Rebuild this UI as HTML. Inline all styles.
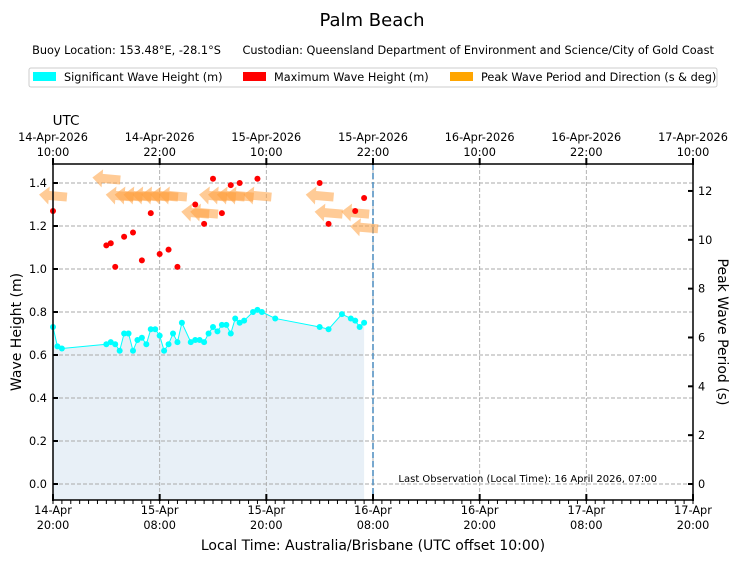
<!DOCTYPE html>
<html><head><meta charset="utf-8"><style>
body{margin:0;background:#fff;}
svg{font-family:"DejaVu Sans","Liberation Sans",sans-serif;}
</style></head><body>
<svg id="chart" width="739" height="562" viewBox="0 0 739 562" xmlns="http://www.w3.org/2000/svg">
<text x="372" y="26" font-size="18" text-anchor="middle">Palm Beach</text>
<text x="373" y="54" font-size="11.3" text-anchor="middle" xml:space="preserve">Buoy Location: 153.48°E, -28.1°S      Custodian: Queensland Department of Environment and Science/City of Gold Coast</text>
<g>
<rect x="29" y="68" width="688" height="19" fill="#fff" stroke="#ccc" rx="2"/>
<g><rect x="33" y="72" width="23" height="9" fill="#00ffff"/><text x="64" y="81" font-size="11.3">Significant Wave Height (m)</text></g>
<g><rect x="243" y="72" width="23" height="9" fill="#ff0000"/><text x="274" y="81" font-size="11.3">Maximum Wave Height (m)</text></g>
<g><rect x="450" y="72" width="23" height="9" fill="#ffa500"/><text x="481" y="81" font-size="11.3">Peak Wave Period and Direction (s &amp; deg)</text></g>
</g>
<g id="plot"></g>
</svg>
<script>
// hours since 14-Apr 20:00 local
const hsHours=[0,0.5,1,6,6.5,7,7.5,8,8.5,9,9.5,10,10.5,11,11.5,12,12.5,13,13.5,14,14.5,15.5,16,16.5,17,17.5,18,18.5,19,19.5,20,20.5,21,21.5,22.5,23,23.5,25,30,31,32.5,33.5,34,34.5,35];
const hsValues=[0.73,0.64,0.63,0.65,0.66,0.65,0.62,0.70,0.70,0.62,0.67,0.68,0.65,0.72,0.72,0.69,0.62,0.65,0.70,0.66,0.75,0.66,0.67,0.67,0.66,0.70,0.73,0.71,0.74,0.74,0.70,0.77,0.75,0.76,0.80,0.81,0.80,0.77,0.73,0.72,0.79,0.77,0.76,0.73,0.75];
const hmaxHours=[0,6,6.5,7,8,9,10,11,12,13,14,16,17,18,19,20,21,23,30,31,34,35];
const hmaxValues=[1.27,1.11,1.12,1.01,1.15,1.17,1.04,1.26,1.07,1.09,1.01,1.30,1.21,1.42,1.26,1.39,1.40,1.42,1.40,1.21,1.27,1.33];
const tpHours=[0,6,7.5,8.5,9.5,10.5,11.5,12.5,13.5,16,17,18,19,20,21,23,30,31,34,35];
const tpPeriods=[11.8,12.5,11.8,11.8,11.8,11.8,11.8,11.8,11.8,11.1,11.1,11.8,11.8,11.8,11.8,11.8,11.8,11.1,11.1,10.5];
const tpDirections=[95,95,95,95,95,95,95,95,95,95,95,95,95,95,95,95,95,95,95,95];
const leftTicks=[0,0.2,0.4,0.6,0.8,1.0,1.2,1.4];
const rightTicks=[0,2,4,6,8,10,12];
const localDates=["14-Apr","15-Apr","15-Apr","16-Apr","16-Apr","17-Apr","17-Apr"];
const localTimes=["20:00","08:00","20:00","08:00","20:00","08:00","20:00"];
const utcDates=["14-Apr-2026","14-Apr-2026","15-Apr-2026","15-Apr-2026","16-Apr-2026","16-Apr-2026","17-Apr-2026"];
const utcTimes=["10:00","22:00","10:00","22:00","10:00","22:00","10:00"];
const lastObsHour=36;

const L=53,R=693,T=164,B=500;
const x=h=>L+h*(R-L)/72;
const y=v=>484-v*215;
const yp=p=>484-p*24.42;
const NS="http://www.w3.org/2000/svg";
const plot=document.getElementById('plot');
function mk(tag,at,parent){const e=document.createElementNS(NS,tag);for(const k in at)e.setAttribute(k,at[k]);(parent||plot).appendChild(e);return e;}

let d=`M${x(hsHours[0])},${y(-0.074)}`;
hsHours.forEach((h,i)=>d+=`L${x(h)},${y(hsValues[i])}`);
d+=`L${x(hsHours[hsHours.length-1])},${y(-0.074)}Z`;
let a=mk('path',{d:d,fill:'#e8f0f7'});


leftTicks.forEach(v=>{let g=mk('line',{x1:L,x2:R,y1:y(v),y2:y(v),stroke:'#aaa','stroke-dasharray':'4,2','stroke-width':0.9});

});
for(let i=1;i<6;i++){let g=mk('line',{x1:x(i*12),x2:x(i*12),y1:T,y2:B,stroke:'#aaa','stroke-dasharray':'4,2','stroke-width':0.9});

}
let lo=mk('line',{x1:x(lastObsHour),x2:x(lastObsHour),y1:T,y2:B,stroke:'#4a8bbf','stroke-dasharray':'6,3','stroke-width':1.5});


let pts=hsHours.map((h,i)=>`${x(h)},${y(hsValues[i])}`).join(' ');
let hl=mk('polyline',{points:pts,fill:'none',stroke:'#00ffff','stroke-width':1});


hsHours.forEach((h,i)=>{let c=mk('circle',{cx:x(h),cy:y(hsValues[i]),r:3,fill:'#00ffff'});

});
tpHours.forEach((h,i)=>{
 const cx=x(h),cy=yp(tpPeriods[i]);
 const ang=tpDirections[i]+90;
 const g=mk('g',{transform:`translate(${cx},${cy}) rotate(${ang-180})`,opacity:0.55});
 
 
 mk('polygon',{points:'-14,0 -4,-9 -4,-4.5 14,-4.5 14,4.5 -4,4.5 -4,9',fill:'#ffa040'},g);
});
hmaxHours.forEach((h,i)=>{let c=mk('circle',{cx:x(h),cy:y(hmaxValues[i]),r:3,fill:'#ff0000'});

});
let fr=mk('rect',{x:L,y:T,width:R-L,height:B-T,fill:'none',stroke:'#000','stroke-width':1.5});


leftTicks.forEach(v=>{mk('line',{x1:L,x2:L+5,y1:y(v),y2:y(v),stroke:'#000','stroke-width':2});
let t=mk('text',{x:47,y:y(v)+4,'font-size':11.3,'text-anchor':'end'});t.textContent=v.toFixed(1);

});
rightTicks.forEach(v=>{mk('line',{x1:R-5,x2:R,y1:yp(v),y2:yp(v),stroke:'#000','stroke-width':2});
let t=mk('text',{x:698,y:yp(v)+4,'font-size':11.3});t.textContent=v;

});
for(let hh=0;hh<=72;hh++){mk('line',{x1:x(hh),x2:x(hh),y1:B,y2:B+4,stroke:'#000','stroke-width':1});}
for(let i=0;i<7;i++){const xx=x(i*12);
 mk('line',{x1:xx,x2:xx,y1:B-6,y2:B+1,stroke:'#000','stroke-width':2});
 mk('line',{x1:xx,x2:xx,y1:T-6,y2:T+1,stroke:'#000','stroke-width':2});
 let t1=mk('text',{x:xx,y:514,'font-size':11.3,'text-anchor':'middle'});t1.textContent=localDates[i];
 
 
 let t2=mk('text',{x:xx,y:529,'font-size':11.3,'text-anchor':'middle'});t2.textContent=localTimes[i];
 
 
 let t3=mk('text',{x:xx,y:141,'font-size':11.3,'text-anchor':'middle'});t3.textContent=utcDates[i];
 
 
 let t4=mk('text',{x:xx,y:156,'font-size':11.3,'text-anchor':'middle'});t4.textContent=utcTimes[i];
 
 
}
function lbl(txt,at,name){let t=mk('text',at);t.textContent=txt;
 
 return t;}
lbl('UTC',{x:66,y:125,'font-size':13.5,'text-anchor':'middle'},'utc-axis-title');
lbl('Local Time: Australia/Brisbane (UTC offset 10:00)',{x:373,y:550,'font-size':14,'text-anchor':'middle'},'x-axis-title');
lbl('Wave Height (m)',{x:21,y:332,'font-size':14,'text-anchor':'middle',transform:'rotate(-90 21 332)'},'y-axis-title');
lbl('Peak Wave Period (s)',{x:718,y:332,'font-size':14,'text-anchor':'middle',transform:'rotate(90 718 332)'},'right-axis-title');
lbl('Last Observation (Local Time): 16 April 2026, 07:00',{x:657,y:482,'font-size':10,'text-anchor':'end'},'last-observation-note');
</script>
</body></html>
